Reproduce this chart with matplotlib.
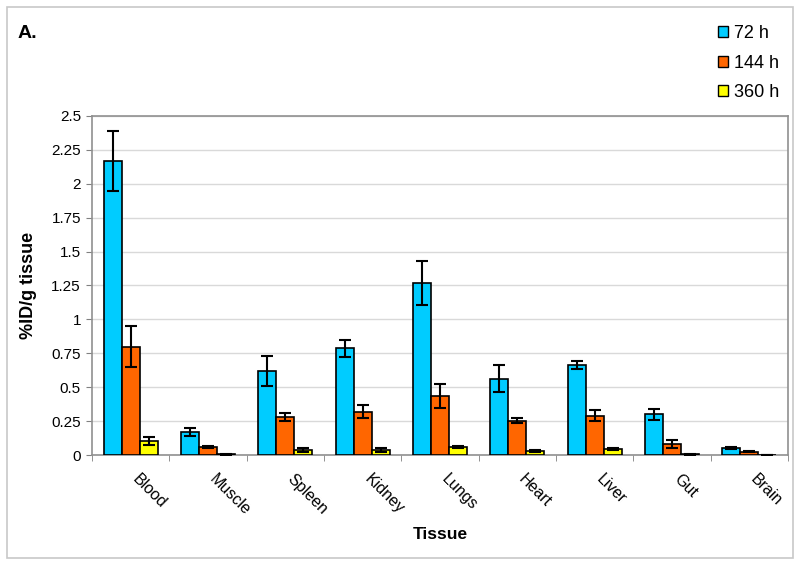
import matplotlib.pyplot as plt
from matplotlib.patches import Patch, Rectangle
import numpy as np

plt.rcParams['font.family'] = ['Liberation Sans', 'DejaVu Sans']

tissues = ['Blood', 'Muscle', 'Spleen', 'Kidney', 'Lungs', 'Heart', 'Liver', 'Gut', 'Brain']
series = ['72 h', '144 h', '360 h']

vals_72 = [2.17, 0.172, 0.62, 0.787, 1.268, 0.563, 0.664, 0.30, 0.049]
err_72 = [0.22, 0.03, 0.11, 0.063, 0.16, 0.10, 0.03, 0.04, 0.007]
vals_144 = [0.80, 0.061, 0.278, 0.32, 0.435, 0.253, 0.29, 0.083, 0.025]
err_144 = [0.15, 0.008, 0.03, 0.05, 0.09, 0.02, 0.04, 0.03, 0.005]
vals_360 = [0.105, 0.005, 0.037, 0.037, 0.061, 0.03, 0.047, 0.005, 0.002]
err_360 = [0.03, 0.002, 0.017, 0.017, 0.008, 0.008, 0.008, 0.002, 0.001]

colors = ['#00CCFF', '#FF6600', '#FFFF00']
yticks = [0, 0.25, 0.5, 0.75, 1, 1.25, 1.5, 1.75, 2, 2.25, 2.5]
ytick_labels = ['0', '0.25', '0.5', '0.75', '1', '1.25', '1.5', '1.75', '2', '2.25', '2.5']

fig = plt.figure(figsize=(8, 5.67), dpi=100)
ax = fig.add_axes([0.115, 0.1975, 0.87, 0.598])

# outer frame around the whole chart
fig.patches.append(Rectangle((7/800, 9/567), 786/800, 551/567, transform=fig.transFigure,
                             fill=False, edgecolor='#c8c8c8', linewidth=1.2))

x = np.arange(len(tissues))
w = 0.233
all_vals = [vals_72, vals_144, vals_360]
all_errs = [err_72, err_144, err_360]
for i in range(3):
    ax.bar(x + (i - 1) * w, all_vals[i], w, color=colors[i], edgecolor='black', linewidth=1.2,
           yerr=all_errs[i], error_kw=dict(ecolor='black', elinewidth=1.5, capsize=4.5, capthick=1.5),
           zorder=3)

ax.set_xlim(-0.5, len(tissues) - 0.5)
ax.set_ylim(0, 2.5)
ax.set_yticks(yticks)
ax.set_yticklabels(ytick_labels, fontsize=11)
ax.yaxis.grid(True, color='#d9d9d9', linewidth=1, zorder=0)
ax.set_axisbelow(True)

# labels sit a little right of the category centre, like Excel's slanted labels
ax.set_xticks(x + 0.12)
ax.set_xticklabels(tissues, fontsize=11.5, rotation=-45, ha='left', va='top', rotation_mode='anchor')
ax.set_xticks(np.arange(len(tissues) + 1) - 0.5, minor=True)
ax.tick_params(axis='x', which='major', length=0, pad=12)
ax.tick_params(axis='x', which='minor', length=4, color='#808080')
ax.tick_params(axis='y', length=4, color='#808080', pad=4)
for sp in ax.spines.values():
    sp.set_color('#909090')
    sp.set_linewidth(1.2)

ax.set_ylabel('%ID/g tissue', fontsize=13, fontweight='bold', labelpad=10)
ax.set_xlabel('Tissue', fontsize=12.5, fontweight='bold', labelpad=6)

fig.text(18/800, 1 - 33/567, 'A.', fontsize=14, fontweight='bold', va='center', ha='left')

handles = [Patch(facecolor=c, edgecolor='black', linewidth=1) for c in colors]
fig.legend(handles, series, loc='upper left', bbox_to_anchor=(702/800, 1 - 9/567),
           frameon=False, fontsize=13, handlelength=0.55, handleheight=0.55,
           handletextpad=0.3, labelspacing=0.68)

fig.savefig('out.png', dpi=100)
